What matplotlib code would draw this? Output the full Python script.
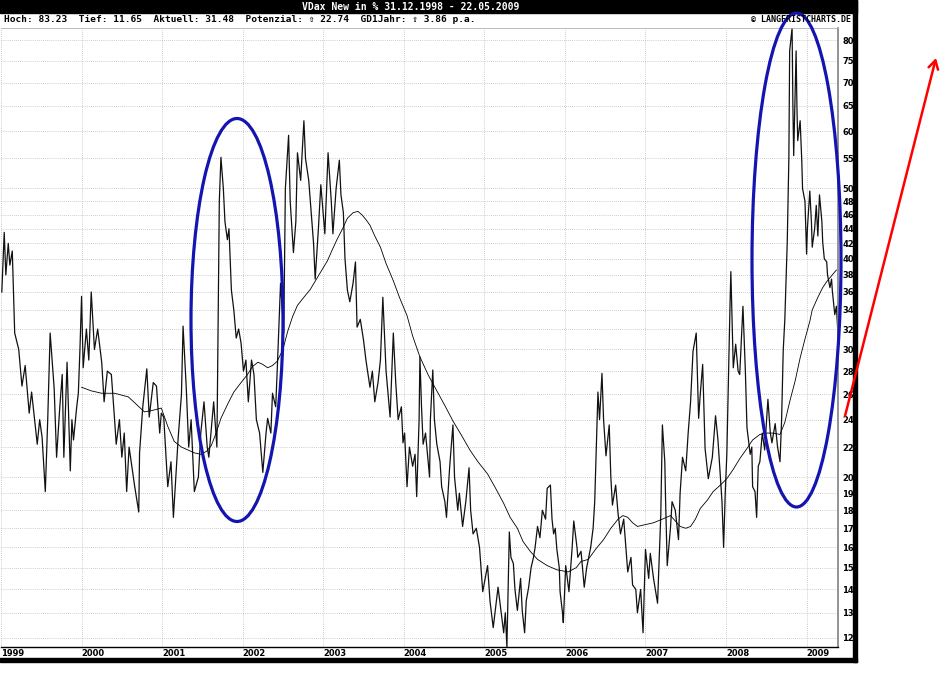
import matplotlib
matplotlib.use('Agg')
import matplotlib.pyplot as plt
from matplotlib.patches import Ellipse, Rectangle
from matplotlib.ticker import FixedLocator, NullLocator, FixedFormatter

# VDAX-New, gelesen aus dem Chart (Dezimaljahr, Wert in %)
vdax_t = [1999.01, 1999.04, 1999.06, 1999.09, 1999.11, 1999.14, 1999.17, 1999.22, 1999.26, 1999.30,
          1999.35, 1999.38, 1999.45, 1999.48, 1999.51, 1999.55, 1999.58, 1999.61, 1999.66, 1999.69,
          1999.73, 1999.76, 1999.78, 1999.82, 1999.86, 1999.88, 1999.90, 1999.94, 1999.96, 1999.98,
          2000.00, 2000.02, 2000.06, 2000.09, 2000.12, 2000.16, 2000.20, 2000.25, 2000.28, 2000.32,
          2000.37, 2000.41, 2000.43, 2000.47, 2000.50, 2000.53, 2000.56, 2000.59, 2000.66, 2000.71,
          2000.72, 2000.76, 2000.81, 2000.84, 2000.89, 2000.93, 2000.97, 2000.99,
          2001.02, 2001.07, 2001.11, 2001.14, 2001.17, 2001.20, 2001.24, 2001.26, 2001.30, 2001.33,
          2001.36, 2001.40, 2001.45, 2001.48, 2001.52, 2001.56, 2001.58, 2001.62, 2001.64, 2001.68,
          2001.71, 2001.73, 2001.76, 2001.78, 2001.81, 2001.83, 2001.86, 2001.89, 2001.92, 2001.95,
          2001.98,
          2002.01, 2002.04, 2002.07, 2002.11, 2002.14, 2002.17, 2002.21, 2002.25, 2002.29, 2002.31,
          2002.35, 2002.37, 2002.41, 2002.43, 2002.47, 2002.51, 2002.53, 2002.57, 2002.59, 2002.63,
          2002.66, 2002.68, 2002.72, 2002.76, 2002.78, 2002.82, 2002.86, 2002.88, 2002.90, 2002.94,
          2002.97,
          2003.00, 2003.02, 2003.06, 2003.10, 2003.12, 2003.16, 2003.20, 2003.22, 2003.25, 2003.27,
          2003.30, 2003.33, 2003.37, 2003.40, 2003.42, 2003.46, 2003.50, 2003.53, 2003.58, 2003.61,
          2003.64, 2003.68, 2003.71, 2003.74, 2003.78, 2003.83, 2003.87, 2003.90, 2003.93, 2003.97,
          2003.99,
          2004.01, 2004.04, 2004.07, 2004.11, 2004.14, 2004.16, 2004.19, 2004.20, 2004.22, 2004.24,
          2004.27, 2004.32, 2004.33, 2004.36, 2004.38, 2004.41, 2004.45, 2004.47, 2004.51, 2004.53,
          2004.57, 2004.61, 2004.63, 2004.67, 2004.69, 2004.73, 2004.77, 2004.81, 2004.83, 2004.86,
          2004.90, 2004.94, 2004.98,
          2005.01, 2005.04, 2005.07, 2005.11, 2005.15, 2005.17, 2005.21, 2005.24, 2005.26, 2005.28,
          2005.31, 2005.33, 2005.36, 2005.38, 2005.41, 2005.45, 2005.47, 2005.50, 2005.52, 2005.55,
          2005.58, 2005.61, 2005.63, 2005.66, 2005.69, 2005.72, 2005.76, 2005.78, 2005.82, 2005.84,
          2005.86, 2005.88, 2005.90, 2005.93, 2005.94, 2005.97, 2005.98,
          2006.01, 2006.05, 2006.09, 2006.11, 2006.15, 2006.16, 2006.20, 2006.24, 2006.27, 2006.32,
          2006.35, 2006.37, 2006.41, 2006.43, 2006.46, 2006.48, 2006.51, 2006.55, 2006.57, 2006.59,
          2006.63, 2006.66, 2006.69, 2006.73, 2006.78, 2006.82, 2006.84, 2006.88, 2006.90, 2006.94,
          2006.97,
          2007.00, 2007.04, 2007.06, 2007.10, 2007.15, 2007.19, 2007.21, 2007.24, 2007.25, 2007.27,
          2007.31, 2007.33, 2007.37, 2007.41, 2007.43, 2007.46, 2007.50, 2007.53, 2007.56, 2007.59,
          2007.63, 2007.66, 2007.68, 2007.71, 2007.74, 2007.78, 2007.83, 2007.87, 2007.90, 2007.93,
          2007.95, 2007.97, 2007.99,
          2008.01, 2008.05, 2008.06, 2008.09, 2008.12, 2008.15, 2008.17, 2008.21, 2008.24, 2008.26,
          2008.30, 2008.32, 2008.33, 2008.36, 2008.38, 2008.40, 2008.42, 2008.45, 2008.48, 2008.52,
          2008.55, 2008.57, 2008.61, 2008.64, 2008.67, 2008.69, 2008.71, 2008.73, 2008.76, 2008.78,
          2008.79, 2008.82, 2008.83, 2008.84, 2008.87, 2008.88, 2008.89, 2008.92, 2008.94, 2008.95,
          2008.98,
          2009.00, 2009.01, 2009.04, 2009.06, 2009.07, 2009.10, 2009.12, 2009.14, 2009.16, 2009.19,
          2009.20, 2009.22, 2009.25, 2009.26, 2009.29, 2009.31, 2009.32, 2009.35, 2009.37, 2009.39]
vdax_v = [36, 43.5, 38, 42, 39.2, 41, 31.6, 30, 26.7, 28.5,
          24.5, 26.2, 22.2, 24, 22.7, 19.1, 24, 31.6, 26.5, 21.3,
          25, 27.7, 21.3, 28.8, 20.4, 24, 22.5, 25, 26.1, 30,
          35.5, 28.3, 32, 29, 36, 30.0, 32, 28.8, 25.4, 28,
          27.7, 24, 22.2, 24, 21.3, 23, 19.1, 22, 19.4, 17.9,
          21.6, 25, 28.2, 24.2, 27, 26.7, 23, 24.5,
          24.2, 19.4, 21, 17.6, 20, 22.7, 26, 32.3, 26.5, 22,
          24, 19.1, 20, 23, 25.4, 22, 21.3, 24, 25.4, 22,
          48, 55.2, 50, 45, 42.5, 44, 36.2, 34, 31.1, 32,
          30.6,
          28, 29, 25.4, 29, 27.7, 24, 23, 20.3, 23, 24.1,
          23, 26.1, 25, 28.3, 37, 31.6, 50, 59.2, 48, 40.8,
          45, 56, 51.3, 62, 55, 51.3, 45, 42, 37.5, 44,
          50.6,
          46, 43.3, 56, 48, 43.3, 50, 54.7, 49, 46.3, 40,
          36.2, 34.9, 37, 39.6, 32.2, 33, 30.9, 29, 26.6, 28,
          25.4, 27, 29, 35.4, 28, 24.2, 31.6, 27, 24, 25,
          22.3,
          23, 19.4, 22, 20.7, 21.5, 18.8, 24, 29.3, 25, 22.2,
          23, 20, 24, 28.1, 24, 22.2, 21, 19.4, 18.5, 17.6,
          20.7, 23.6, 20, 18, 19, 17.1, 18.5, 20.6, 18, 16.7,
          17, 16, 13.9,
          14.5, 15.1, 13.5, 12.4, 13.5, 14.1, 13, 12.2, 13, 11.65,
          16.8, 15.5, 15.2, 14, 13.1, 14.5, 13.1, 12.2, 13.5, 14.1,
          15, 15.5, 16, 17.1, 16.5, 18, 17.5, 19.3, 19.5, 17.5,
          16.7, 17, 15.9, 15, 13.9, 13, 12.6,
          15.1, 13.9, 16, 17.4, 16, 15.5, 15.8, 14.1, 15, 16,
          17, 18.5, 26.2, 24, 27.8, 24, 21.4, 23.6, 20, 18.3,
          19.5, 17.8, 16.7, 17.5, 14.8, 15.5, 14.2, 14, 13, 14,
          12.2,
          15.9, 14.5, 15.7, 14.5, 13.4, 17.7, 23.6, 21, 18.5, 15.1,
          17, 18.5, 18, 16.4, 19, 21.3, 20.4, 23, 25.4, 29.8,
          31.6, 24.1, 26, 28.6, 21.9, 19.9, 21.3, 24.3, 22.5, 20,
          18.5, 16, 19,
          21.5, 34.7, 38.4, 28.3, 30.5, 28, 27.7, 34.4, 28, 23.4,
          21.5, 22, 19.4, 19.1, 17.6, 20.7, 21, 23, 21.8, 25.6,
          23, 22.3, 23.7, 22, 21, 24, 29.9, 33, 42.2, 55,
          77.4, 83.23, 65, 55.5, 77.4, 65, 58.2, 62, 54.7, 50,
          48,
          40.6, 44, 49.6, 45, 41.5, 44, 47.4, 43, 49, 45,
          42.2, 40, 39.6, 38, 36.5, 37.5, 36.1, 33.5, 34.4, 31.48]

# gleitender Durchschnitt (GD 1 Jahr)
gd_t = [2000.00, 2000.12, 2000.25, 2000.41, 2000.58, 2000.68, 2000.78, 2000.87, 2000.99,
        2001.07, 2001.15, 2001.24, 2001.32, 2001.40, 2001.48, 2001.55, 2001.61, 2001.67, 2001.73,
        2001.82, 2001.89, 2001.98,
        2002.06, 2002.12, 2002.19, 2002.25, 2002.31, 2002.37, 2002.43, 2002.50, 2002.56, 2002.62,
        2002.68, 2002.76, 2002.84, 2002.94,
        2003.05, 2003.11, 2003.17, 2003.24, 2003.30, 2003.37, 2003.43, 2003.48, 2003.53, 2003.58,
        2003.64, 2003.71, 2003.78, 2003.87, 2003.95,
        2004.04, 2004.11, 2004.20, 2004.30, 2004.41, 2004.51, 2004.61, 2004.72, 2004.82, 2004.92,
        2005.04, 2005.14, 2005.24, 2005.32, 2005.41, 2005.48, 2005.57, 2005.66, 2005.78, 2005.90,
        2006.04, 2006.14, 2006.20, 2006.29, 2006.38, 2006.48, 2006.57, 2006.66, 2006.72, 2006.78,
        2006.84, 2006.90,
        2007.00, 2007.10, 2007.21, 2007.31, 2007.37, 2007.43, 2007.50, 2007.56, 2007.62, 2007.68,
        2007.77, 2007.84, 2007.93,
        2008.01, 2008.09, 2008.17, 2008.26, 2008.33, 2008.42, 2008.51, 2008.58, 2008.67, 2008.73,
        2008.79, 2008.86, 2008.92, 2008.98,
        2009.04, 2009.07, 2009.14, 2009.20, 2009.25, 2009.31, 2009.37]
gd_v = [26.6, 26.3, 26.1, 26.1, 25.8, 25.2, 24.6, 24.7, 24.9,
        23.5, 22.4, 22.0, 21.8, 21.6, 21.5, 21.7, 22.1, 23.0, 24.1,
        25.3, 26.2, 27.0,
        27.7, 28.4, 28.8, 28.6, 28.3, 28.5, 28.9, 30.0, 31.8, 33.3,
        34.5, 35.4, 36.3, 37.9,
        39.7, 41.1, 42.5, 44.0, 45.5, 46.3, 46.5, 46.0, 45.3, 44.5,
        43.0, 41.5, 39.4, 37.3, 35.3,
        33.4, 31.3, 29.3, 27.7, 26.3, 25.1, 23.9, 22.8, 21.8, 21.0,
        20.2, 19.3, 18.4, 17.6, 17.0, 16.3, 15.8, 15.4, 15.1, 14.9,
        14.8, 15.0, 15.3, 15.4, 15.9, 16.4, 17.0, 17.5, 17.7, 17.6,
        17.3, 17.1,
        17.2, 17.3, 17.5, 17.7, 17.4, 17.1, 17.0, 17.1, 17.5, 18.1,
        18.6, 19.1, 19.5,
        19.9, 20.5, 21.2, 21.9, 22.5, 22.9, 23.0, 23.0, 22.9, 23.8,
        25.4, 27.2, 29.2, 31.0,
        32.8, 34.0, 35.4, 36.5, 37.2, 37.9, 38.6]

y_ticks = [12, 13, 14, 15, 16, 17, 18, 19, 20, 22, 24, 26, 28, 30, 32, 34, 36, 38,
           40, 42, 44, 46, 48, 50, 55, 60, 65, 70, 75, 80]
year_ticks = [1999, 2000, 2001, 2002, 2003, 2004, 2005, 2006, 2007, 2008, 2009]

title = 'VDax New in % 31.12.1998 - 22.05.2009'
info = 'Hoch: 83.23  Tief: 11.65  Aktuell: 31.48  Potenzial: \u21e7 22.74  GD1Jahr: \u21e7 3.86 p.a.'
credit = '\u00a9 LANGFRISTCHARTS.DE'

W, H = 942, 673
fig = plt.figure(figsize=(W / 100, H / 100), dpi=100)
fig.patch.set_facecolor('white')

# Hauptchart
ax = fig.add_axes([1 / W, (H - 647.3) / H, 837 / W, 619.3 / H])
ax.plot(vdax_t, vdax_v, color='#111111', lw=0.9)
ax.plot(gd_t, gd_v, color='black', lw=0.6)
ax.set_yscale('log')
ax.set_ylim(11.65, 83.23)
ax.set_xlim(1999.0, 2009.39)
ax.yaxis.set_major_locator(FixedLocator(y_ticks))
ax.yaxis.set_major_formatter(FixedFormatter([str(v) for v in y_ticks]))
ax.yaxis.set_minor_locator(NullLocator())
ax.yaxis.tick_right()
ax.set_xticks(year_ticks)
ax.set_xticklabels([str(y) for y in year_ticks], ha='left')
ax.tick_params(axis='y', length=0, pad=3, labelsize=6)
ax.tick_params(axis='x', length=0, pad=1.5, labelsize=6)
for lab in ax.get_xticklabels() + ax.get_yticklabels():
    lab.set_fontweight('bold')
ax.grid(True, color='#a0a0a0', linestyle=(0, (1, 2)), lw=0.5)
ax.spines['left'].set_visible(False)
ax.spines['top'].set_color('#b0b0b0')
ax.spines['top'].set_linewidth(0.6)
ax.spines['right'].set_color('#808080')
ax.spines['right'].set_linewidth(1.2)
ax.spines['bottom'].set_color('black')
ax.spines['bottom'].set_linewidth(1.0)

# Rahmen, Kopfzeilen und Markierungen in Pixelkoordinaten
ov = fig.add_axes([0, 0, 1, 1], zorder=5)
ov.set_xlim(0, W)
ov.set_ylim(H, 0)
ov.axis('off')
ov.patch.set_alpha(0)

ov.add_patch(Rectangle((0, 0), 857, 12.5, color='black'))
ov.add_patch(Rectangle((853, 0), 4, 662, color='black'))
ov.add_patch(Rectangle((0, 657.5), 857, 4.5, color='black'))
ov.text(411, 6.5, title, color='white', ha='center', va='center', fontsize=7,
        family=['DejaVu Sans Mono', 'DejaVu Sans'], fontweight='bold')
ov.text(4, 19.5, info, color='black', ha='left', va='center', fontsize=6.8,
        family=['DejaVu Sans Mono', 'DejaVu Sans'], fontweight='bold')
ov.text(851, 19.5, credit, color='black', ha='right', va='center', fontsize=6,
        family=['DejaVu Sans Mono', 'DejaVu Sans'], fontweight='bold')

blue = '#1414b0'
ov.add_patch(Ellipse((237, 320), 92, 403, fill=False, ec=blue, lw=2.3))
ov.add_patch(Ellipse((796.5, 260), 89, 494, fill=False, ec=blue, lw=2.3))
ov.annotate('', xy=(936, 58), xytext=(845, 416),
            arrowprops=dict(arrowstyle='->,head_length=0.6,head_width=0.35',
                            color='red', lw=1.8, shrinkA=0, shrinkB=0))

fig.savefig('out.png', dpi=100)
